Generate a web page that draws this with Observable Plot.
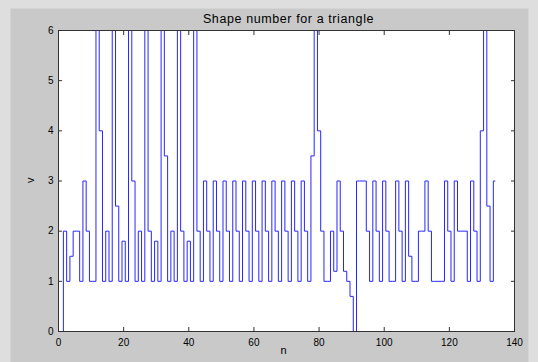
<!DOCTYPE html>
<html>
<head>
<meta charset="utf-8">
<script src="https://cdn.jsdelivr.net/npm/d3@7"></script>
<script src="https://cdn.jsdelivr.net/npm/@observablehq/plot@0.6"></script>
<style>
  html, body { margin: 0; padding: 0; background: #dedede; }
</style>
</head>
<body>
<div id="chart"></div>
<script>
const title = "Shape number for a triangle";
const xLabel = "n";
const yLabel = "v";
const xTicks = [0, 20, 40, 60, 80, 100, 120, 140];
const yTicks = [0, 1, 2, 3, 4, 5, 6];
// shape number values v(1..134)
const v = [
  0, 2, 1, 1.5, 2, 2, 1, 3, 2, 1,
  1, 6, 4, 1, 2, 1, 6, 2.5, 1, 1.8,
  1, 6, 3, 1, 2, 1, 6, 2, 1, 1.8,
  1, 6, 3.5, 1, 2, 1, 6, 2, 1, 1.8,
  1, 6, 2, 1, 3, 2, 1, 3, 2, 1,
  3, 2, 1, 3, 2, 1, 3, 2, 1, 3,
  2, 1, 3, 2, 1, 3, 2, 1, 3, 2,
  1, 3, 2, 1, 3, 2, 1, 3.5, 6, 4,
  2, 1, 1, 2, 1.2, 3, 2, 1.2, 1, 0.7,
  0, 3, 3, 3, 2, 1, 3, 2, 1, 3,
  2, 1, 1, 3, 2, 1, 3, 1.5, 1, 1,
  2, 2, 3, 2, 1, 1, 1, 1, 3, 2,
  1, 3, 2, 2, 2, 1, 3, 2, 1, 4,
  6, 2.5, 1, 3
];
const data = v.map((d, i) => ({n: i + 1, v: d}));

const axisColor = "#333";
const chart = Plot.plot({
  width: 538,
  height: 362,
  marginLeft: 58,
  marginRight: 24,
  marginTop: 30,
  marginBottom: 31,
  style: {
    background: "#dedede",
    fontFamily: "'Liberation Sans', Arial, sans-serif",
    fontSize: "10px",
    color: "black"
  },
  x: {domain: [0, 140]},
  y: {domain: [0, 6]},
  marks: [
    Plot.frame({fill: "#c9c9c9", stroke: null, insetLeft: -48, insetRight: -14, insetTop: -22, insetBottom: -31}),
    Plot.frame({fill: "white", stroke: null}),
    Plot.line(data, {x: "n", y: "v", stroke: "#2626ff", strokeWidth: 1, curve: "step"}),
    Plot.frame({stroke: axisColor, strokeWidth: 1}),
    Plot.axisX(xTicks, {anchor: "bottom", tickSize: 4, dy: -4, tickPadding: 7, label: null, stroke: axisColor}),
    Plot.axisX(xTicks, {anchor: "top", tickSize: 4, dy: 4, tickFormat: () => "", label: null, stroke: axisColor}),
    Plot.axisY(yTicks, {anchor: "left", tickSize: 4, dx: 4, tickPadding: 5, tickFormat: d3.format("d"), label: null, stroke: axisColor}),
    Plot.axisY(yTicks, {anchor: "right", tickSize: 4, dx: -4, tickFormat: () => "", label: null, stroke: axisColor}),
    Plot.text([title], {frameAnchor: "top", dx: 2, dy: -8, lineAnchor: "bottom", fontSize: 12.5}),
    Plot.text([xLabel], {frameAnchor: "bottom", dx: -3, dy: 22, lineAnchor: "bottom", fontSize: 11}),
    Plot.text([yLabel], {frameAnchor: "left", dx: -28, dy: 2, rotate: -90, fontSize: 11})
  ]
});
d3.select(chart).selectAll("text").filter(function() { return this.textContent === title; })
  .attr("letter-spacing", "0.6px");
document.getElementById("chart").appendChild(chart);
</script>
</body>
</html>
